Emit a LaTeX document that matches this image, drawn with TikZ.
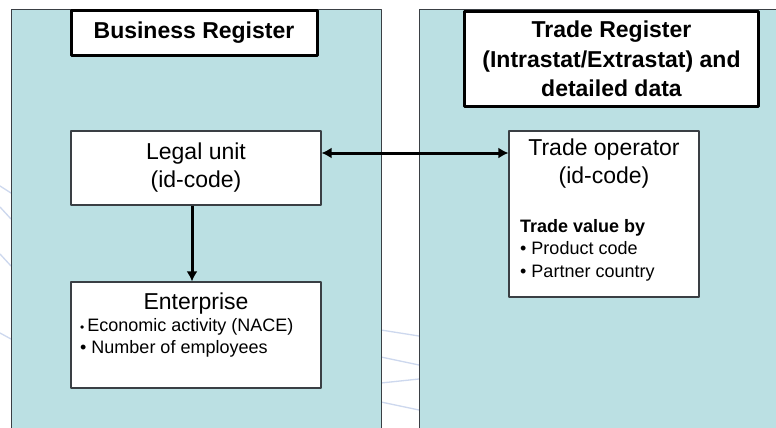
\documentclass[tikz,border=0pt]{standalone}
\usepackage{fontspec}
\setmainfont{Liberation Sans}
\usetikzlibrary{arrows.meta,positioning}
\definecolor{regPanel}{HTML}{BBE0E3}
\definecolor{regEdge}{HTML}{3A3F44}
\definecolor{regSwirl}{HTML}{CDD8EE}

\begin{document}
\begin{tikzpicture}[x=1pt,y=-1pt,>={Latex[length=10pt,width=11pt]},line join=round]
\useasboundingbox (0,0) rectangle (776,428);
\path[fill=white] (0,0) rectangle (776,428);
\tikzset{panel/.style={fill=regPanel,draw=regEdge,line width=1pt},title/.style={draw=black,fill=white,line width=3pt,align=center,inner sep=0pt,font=\bfseries\fontsize{23}{29.5}\selectfont},unit/.style={draw=regEdge,fill=white,line width=1.2pt,inner sep=0pt},big/.style={inner sep=0pt,align=center,font=\fontsize{23}{28}\selectfont},small/.style={inner sep=0pt,align=left,font=\fontsize{18}{22.5}\selectfont},link/.style={draw=black,line width=3pt},swirl/.style={draw=regSwirl,line width=1.3pt,line cap=round}}
\draw[swirl] (0,186) -- (11,193); \draw[swirl] (0,207) -- (11,219); \draw[swirl] (0,254) -- (11,266); \draw[swirl] (0,333) -- (11,339);
\draw[swirl] (381,330) -- (419,336); \draw[swirl] (381,357) -- (419,365); \draw[swirl] (381,383) -- (419,379); \draw[swirl] (381,402) -- (419,410);
\path[panel] (11,10) rectangle (381,440);
\path[panel] (419,10) rectangle (790,440);
\node[title,minimum width=246,minimum height=45] (bizhead) at (194,33) {Business Register};
\node[title,minimum width=294,minimum height=95] (tradehead) at (611.5,59) {Trade Register\\(Intrastat/Extrastat) and\\detailed data};
\node[unit,big,minimum width=250,minimum height=74] (legal) at (196,168) {Legal unit\\(id-code)};
\node[unit,minimum width=190,minimum height=166] (oper) at (604,214) {};
\node[big,below=8pt of oper.north] (opername) {Trade operator\\(id-code)};
\node[small,anchor=north west] (opervals) at (520,219) {\textbf{Trade value by}\\\textbullet\ Product code\\\textbullet\ Partner country};
\node[unit,minimum width=250,minimum height=106] (ent) at (196,335) {};
\node[big,below=11pt of ent.north] (entname) {Enterprise};
\node[small,anchor=north west] (entlist) at (80,318) {{\fontsize{12}{12}\selectfont\textbullet}\,Economic activity (NACE)\\\textbullet\ Number of employees};
\coordinate (linkrow) at (0,153);
\coordinate (stemcol) at (192,0);
\draw[link,<->] (legal.east |- linkrow) -- (oper.west |- linkrow);
\draw[link,->] (legal.south -| stemcol) -- (ent.north -| stemcol);
\end{tikzpicture}
\end{document}
